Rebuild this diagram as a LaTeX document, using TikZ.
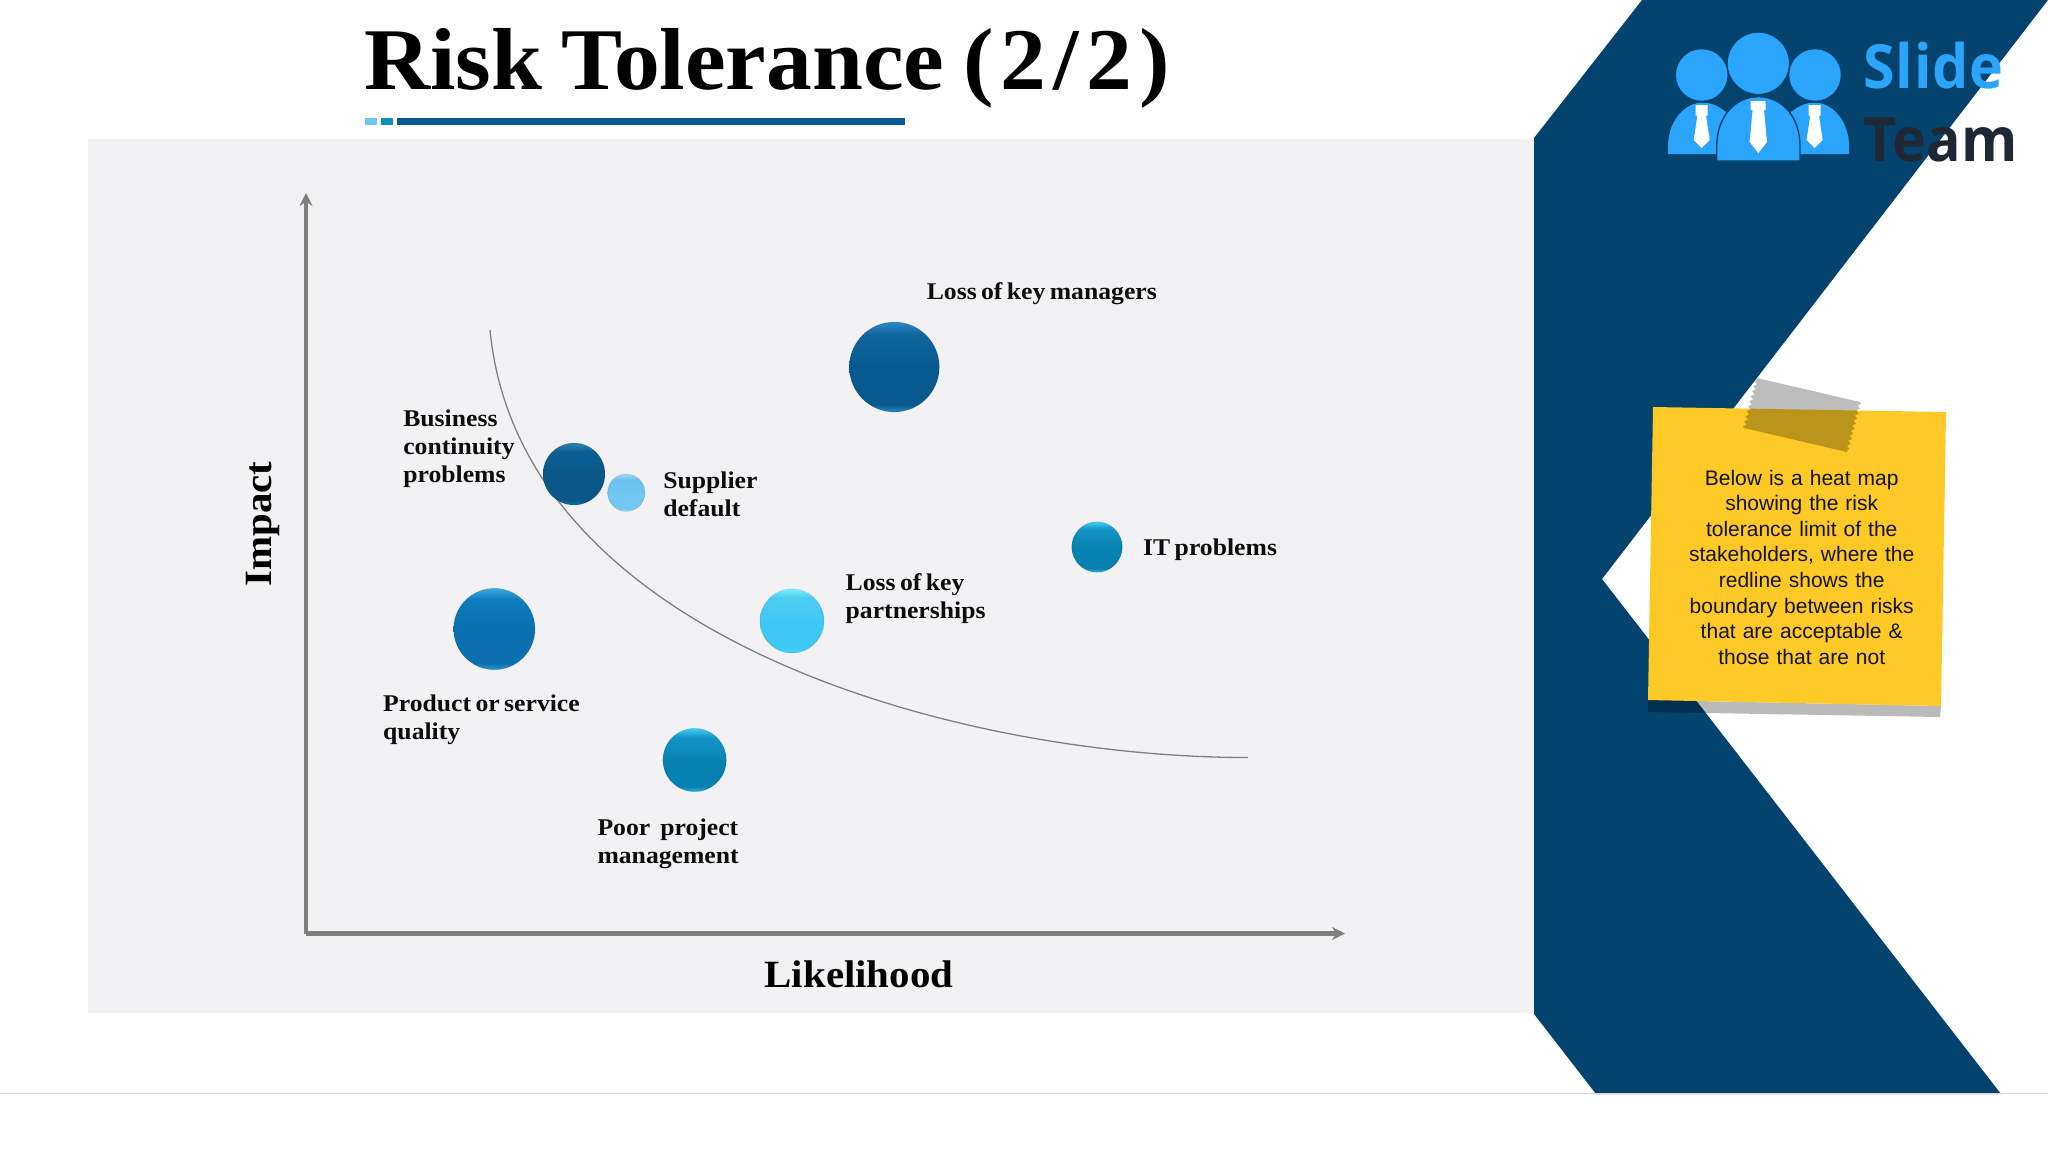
\documentclass[tikz,border=0pt]{standalone}
\usepackage{fontspec}
\usetikzlibrary{arrows.meta,decorations.pathmorphing}
\newfontfamily\camb[FakeStretch=1.07]{Liberation Serif}
\newfontfamily\cambtitle[FakeStretch=1.04]{Liberation Serif}
\newfontfamily\cambaxis[FakeStretch=1.06]{Liberation Serif}
\newfontfamily\logofont[FakeStretch=0.94]{Open Sans}
\newfontfamily\arialfont{Liberation Sans}
\newcommand{\lblspace}{\spaceskip 2.2pt\relax}
\newcommand{\titlespace}{\spaceskip 9.5pt\relax}
\definecolor{navy}{HTML}{03436E}
\definecolor{panelgray}{HTML}{F2F2F4}
\definecolor{axisgray}{HTML}{808080}
\definecolor{notey}{HTML}{FDC926}
\definecolor{logoblue}{HTML}{2BA5FC}
\definecolor{logodark}{HTML}{1F2733}
\definecolor{barA}{HTML}{6EC6F1}\definecolor{barB}{HTML}{0E8FC0}\definecolor{barC}{HTML}{0A5A91}
\newcommand{\mkball}[5]{%
  \pgfdeclareverticalshading{#1}{100bp}{%
    color(0bp)=(#5); color(25bp)=(#5); color(29bp)=(#4); color(50bp)=(#4);
    color(68bp)=(#3); color(75bp)=(#2); color(100bp)=(#2)}}
\definecolor{a1}{HTML}{2D8AC0}\definecolor{a2}{HTML}{0F659C}\definecolor{a3}{HTML}{085A8E}\definecolor{a4}{HTML}{2A8CC2}
\definecolor{b1}{HTML}{2F82B0}\definecolor{b2}{HTML}{0B5F94}\definecolor{b3}{HTML}{0A5788}\definecolor{b4}{HTML}{0E6FA6}
\definecolor{c1}{HTML}{9ADFFA}\definecolor{c2}{HTML}{6CC2EE}\definecolor{c3}{HTML}{72C8F2}\definecolor{c4}{HTML}{95E2FF}
\definecolor{d1}{HTML}{3AAAE2}\definecolor{d2}{HTML}{0D7CBE}\definecolor{d3}{HTML}{0A70AE}\definecolor{d4}{HTML}{2598D6}
\definecolor{e1}{HTML}{74F2FF}\definecolor{e2}{HTML}{4CCDEF}\definecolor{e3}{HTML}{40C8F4}\definecolor{e4}{HTML}{45D6FC}
\definecolor{f1}{HTML}{40D0F5}\definecolor{f2}{HTML}{1495C6}\definecolor{f3}{HTML}{0782B0}\definecolor{f4}{HTML}{32B4E0}
\mkball{shKey}{a1}{a2}{a3}{a4}
\mkball{shBus}{b1}{b2}{b3}{b4}
\mkball{shSup}{c1}{c2}{c3}{c4}
\mkball{shPro}{d1}{d2}{d3}{d4}
\mkball{shPar}{e1}{e2}{e3}{e4}
\mkball{shPoo}{f1}{f2}{f3}{f4}
\tikzset{
  ball/.style={circle,inner sep=0pt,outer sep=0pt,minimum size=#1*0.5pt,draw=black,draw opacity=.08,line width=.5pt},
  lbl/.style={inner sep=0pt,outer sep=0pt,anchor=base west,align=left,text width=130pt,
    font=\camb\bfseries\fontsize{12}{14}\selectfont,execute at begin node={\lblspace},text=black!95},
  axislbl/.style={inner sep=0pt,outer sep=0pt,font=\cambaxis\bfseries\fontsize{19.3}{23}\selectfont,text=black},
  axisline/.style={draw=axisgray,line width=2.1pt,-{Stealth[length=6.5pt,width=6.5pt]}},
  tape/.style={fill=black,fill opacity=.26},
  shadowf/.style={fill=black,fill opacity=.27},
  logohead/.style={fill=logoblue},
  logobody/.style={fill=logoblue},
  tie/.style={fill=white}
}
\begin{document}
\begin{tikzpicture}[x=0.5pt,y=-0.5pt]
\useasboundingbox (0,0) rectangle (2048,1152);
\fill[white] (0,0) rectangle (2048,1152);
% panel and band
\fill[panelgray] (88,139) rectangle (1534,1013);
\fill[navy] (1642,0) -- (2048,0) -- (1602,579) -- (2001,1094) -- (1596,1094) -- (1534,1014) -- (1534,138) -- cycle;
\draw[black!16,line width=.6pt] (0,1093.5) -- (2048,1093.5);
% title
\node[inner sep=0pt,anchor=base west,font=\cambtitle\bfseries\fontsize{44}{50}\selectfont,execute at begin node={\titlespace}] (title) at (364,89.5) {Risk Tolerance {\addfontfeature{LetterSpace=8}(2/2)}};
\fill[barA] (364.7,118) rectangle (377.3,125);
\fill[barB] (380.6,118) rectangle (393.2,125);
\fill[barC] (396.5,118) rectangle (905,125);
% axes
\coordinate (origin) at (306,933.5);
\coordinate (ytip) at (306,193);
\coordinate (xtip) at (1345,933.5);
\draw[axisline] (origin) -- (ytip);
\draw[axisline] (origin) -- (xtip);
\node[axislbl,anchor=base,rotate=90] (impact) at (271,524) {Impact};
\node[axislbl,anchor=base] (likelihood) at (859,987.3) {Likelihood};
% curve
\coordinate (cstart) at (490,330);
\coordinate (cend) at (1248,757.5);
\draw[draw=black!50,line width=.65pt] (cstart) .. controls (520,640) and (960,757.5) .. (cend);
% balls
\node[ball=90,shading=shKey] (key) at (894.3,367) {};
\node[ball=62,shading=shBus] (bus) at (574,474) {};
\node[ball=37.4,shading=shSup] (sup) at (626.3,492.7) {};
\node[ball=81.4,shading=shPro] (pro) at (494.3,629) {};
\node[ball=64,shading=shPar] (par) at (792,621) {};
\node[ball=50.6,shading=shPoo] (it) at (1097,547) {};
\node[ball=63.4,shading=shPoo] (poo) at (694.6,760) {};
% labels
\node[lbl] (lkey) at (926.8,299) {Loss of key managers};
\node[lbl] (lbus) at (403.3,426.5) {Business\\continuity\\problems};
\node[lbl] (lsup) at (663.3,488) {Supplier\\default};
\node[lbl] (lit) at (1143.2,555) {IT problems};
\node[lbl] (lpar) at (845.7,590) {Loss of key\\partnerships};
\node[lbl] (lpro) at (383.2,711.7) {Product or service\\quality};
\node[lbl] (lpoo) at (597.5,835) {Poor\hspace{5pt}project\\management};
% note
\fill[shadowf] (1648,700) -- (1941,706) -- (1940,717) -- (1648,712) -- cycle;
\fill[notey] (1653,407) -- (1946,412) -- (1941,706) -- (1648,700) -- cycle;
\begin{scope}[decoration={zigzag,segment length=2.6pt,amplitude=.8pt}]
\fill[tape] (1757,378) -- (1860,402) decorate {-- (1847,452)} -- (1744,428) decorate {-- (1757,378)} -- cycle;
\end{scope}
\node[inner sep=0pt,outer sep=0pt,anchor=base,align=center,text width=165pt,
  font=\arialfont\fontsize{10.5}{12.8}\selectfont,text=black!92] (notetext) at (1801.7,485)
  {Below is a heat map\\showing the risk\\tolerance limit of the\\stakeholders, where the\\redline shows the\\boundary between risks\\that are acceptable \&\\those that are not};
% logo
\fill[logobody] (1668,154) -- (1668,146) .. controls (1668,122) and (1684,102.7) .. (1702,102.7) .. controls (1712,102.7) and (1718,106) .. (1726,112) -- (1726,154) -- cycle;
\fill[logobody] (1849,154) -- (1849,146) .. controls (1849,122) and (1833,102.7) .. (1815,102.7) .. controls (1805,102.7) and (1799,106) .. (1791,112) -- (1791,154) -- cycle;
\path[logobody,draw=navy,line width=.7pt] (1716.7,161) -- (1716.7,146) .. controls (1716.7,118) and (1734,96.7) .. (1758.3,96.7) .. controls (1783,96.7) and (1800,118) .. (1800,146) -- (1800,161) -- cycle;
\fill[logohead] (1701.7,75) circle[x radius=25.7,y radius=25.7];
\fill[logohead] (1815,75) circle[x radius=25.7,y radius=25.7];
\path[logohead,draw=navy,line width=.4pt] (1758.3,63.3) circle[x radius=31,y radius=31];
\fill[tie] (1750.6,101) -- (1765.6,101) -- (1765.6,110) -- (1764,110) -- (1767,142) -- (1758.3,153) -- (1749.6,142) -- (1752.6,110) -- (1750.6,110) -- cycle;
\fill[tie] (1695.7,105) -- (1707.6,105) -- (1707.6,115.7) -- (1706,115.7) -- (1709.7,140) -- (1701.7,148) -- (1693.7,140) -- (1697.4,115.7) -- (1695.7,115.7) -- cycle;
\fill[tie] (1808.6,105) -- (1820.6,105) -- (1820.6,115.7) -- (1819,115.7) -- (1822.6,140) -- (1814.6,148) -- (1806.6,140) -- (1810.2,115.7) -- (1808.6,115.7) -- cycle;
\node[inner sep=0pt,anchor=base west,font=\logofont\bfseries\fontsize{30.5}{34}\selectfont,text=logoblue] (slide) at (1863,88) {\addfontfeature{LetterSpace=1.5}Slide};
\node[inner sep=0pt,anchor=base west,font=\logofont\bfseries\fontsize{30.5}{34}\selectfont,text=logodark] (team) at (1863,161) {Team};
\end{tikzpicture}
\end{document}
